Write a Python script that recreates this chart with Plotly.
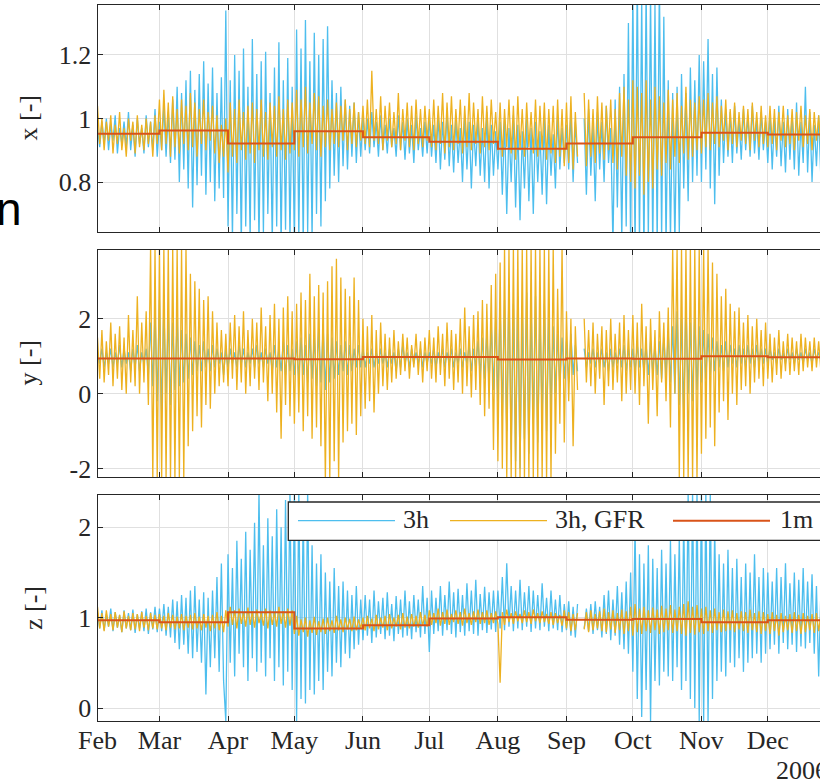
import pandas as pd
import plotly.graph_objects as go

# ---------------------------------------------------------------- data
# Daily samples (one value per day, Feb 1 .. Dec 25, 2006), one line per month.
# None marks the short outage in early September.
X3H = [
    0.97, 0.91, 0.99, 0.92, 1.00, 0.90, 0.98, 0.93, 1.01, 0.89, 0.97, 0.92, 0.99, 0.91, 1.02, 0.90, 0.98, 0.88, 1.00, 0.92, 0.97, 0.89, 1.01, 0.91, 0.99, 0.90, 1.03, 0.88,
    0.99, 0.90, 1.04, 0.88, 1.02, 0.86, 1.06, 0.87, 1.10, 0.80, 1.08, 0.84, 1.12, 0.78, 1.15, 0.72, 1.09, 0.79, 1.14, 0.82, 1.18, 0.76, 1.11, 0.80, 1.16, 0.74, 1.08, 0.78, 1.13, 0.75, 1.34,
    0.66, 1.12, 0.62, 1.20, 0.70, 1.15, 0.60, 1.22, 0.66, 1.10, 0.62, 1.25, 0.68, 1.14, 0.60, 1.18, 0.64, 1.21, 0.70, 1.08, 0.61, 1.16, 0.66, 1.24, 0.60, 1.12, 0.65, 1.19, 0.62, 1.10,
    0.60, 1.28, 0.62, 1.22, 0.60, 1.31, 0.64, 1.18, 0.62, 1.27, 0.70, 1.20, 0.66, 1.25, 0.74, 1.29, 0.78, 1.12, 0.82, 1.08, 0.80, 1.10, 0.85, 1.06, 0.84, 1.04, 0.88, 1.05, 0.86, 1.02, 0.88,
    1.01, 0.90, 1.00, 0.89, 1.02, 0.91, 0.99, 0.88, 1.01, 0.90, 0.98, 0.89, 1.00, 0.91, 0.97, 0.88, 1.01, 0.90, 0.99, 0.87, 1.00, 0.89, 0.98, 0.86, 1.01, 0.90, 0.97, 0.88, 0.99, 0.89,
    1.00, 0.88, 0.98, 0.86, 1.01, 0.84, 0.99, 0.87, 1.02, 0.85, 0.98, 0.83, 1.00, 0.86, 0.97, 0.80, 1.01, 0.84, 0.99, 0.78, 0.98, 0.85, 1.00, 0.82, 0.97, 0.80, 1.02, 0.78, 0.98, 0.82, 0.96,
    0.84, 0.99, 0.76, 1.00, 0.70, 0.97, 0.80, 1.01, 0.72, 0.98, 0.68, 0.96, 0.78, 1.00, 0.74, 0.97, 0.70, 0.99, 0.80, 0.96, 0.76, 1.00, 0.73, 0.98, 0.82, 0.95, 0.78, 1.01, 0.84, 0.97, 0.86,
    0.98, 0.84, 1.02, 0.80, 0.99, 0.86, None, None, 1.00, 0.76, 1.03, 0.82, 0.98, 0.74, 1.02, 0.84, 0.99, 0.80, 1.04, 0.86, 0.97, 0.60, 1.06, 0.72, 1.10, 0.62, 1.14, 0.66, 1.30, 0.60,
    1.40, 0.58, 1.45, 0.60, 1.38, 0.56, 1.42, 0.62, 1.40, 0.58, 1.36, 0.60, 1.44, 0.62, 1.32, 0.60, 1.12, 0.62, 1.08, 0.60, 1.10, 0.64, 1.14, 0.78, 1.08, 0.74, 1.16, 0.80, 1.12, 0.82, 1.20,
    0.80, 1.18, 0.84, 1.25, 0.78, 1.14, 0.73, 1.16, 0.82, 1.06, 0.86, 1.03, 0.88, 1.02, 0.86, 1.04, 0.89, 1.00, 0.87, 1.03, 0.90, 1.01, 0.88, 1.04, 0.89, 1.00, 0.87, 1.02, 0.90, 0.99,
    0.86, 1.02, 0.84, 1.00, 0.88, 1.04, 0.85, 0.99, 0.83, 1.03, 0.87, 1.01, 0.84, 1.05, 0.82, 0.99, 0.86, 1.10, 0.83, 1.02, 0.80, 0.98, 0.85, 1.01, 0.81,
]
XGFR = [
    1.04, 0.92, 1.00, 0.90, 0.99, 0.93, 1.01, 0.89, 0.98, 0.92, 1.02, 0.90, 0.97, 0.88, 1.00, 0.93, 0.99, 0.89, 1.01, 0.91, 0.98, 0.90, 1.00, 0.92, 0.99, 0.88, 1.01, 0.92,
    1.06, 0.90, 1.09, 0.92, 1.05, 0.88, 1.07, 0.91, 1.03, 0.89, 1.06, 0.92, 1.04, 0.90, 1.08, 0.91, 1.05, 0.88, 1.03, 0.92, 1.06, 0.90, 1.02, 0.93, 1.04, 0.89, 1.01, 0.86, 0.98, 0.88, 1.00,
    0.83, 1.05, 0.88, 1.03, 0.86, 1.06, 0.90, 1.02, 0.87, 1.04, 0.89, 1.05, 0.86, 1.03, 0.90, 1.06, 0.88, 1.02, 0.87, 1.05, 0.91, 1.04, 0.88, 1.07, 0.90, 1.03, 0.87, 1.06, 0.89, 1.05,
    0.90, 1.09, 0.88, 1.06, 0.91, 1.10, 0.89, 1.05, 0.92, 1.08, 0.90, 1.07, 0.88, 1.04, 0.91, 1.06, 0.90, 1.03, 0.92, 1.05, 0.91, 1.04, 0.93, 1.06, 0.90, 1.03, 0.92, 1.05, 0.91, 1.02, 0.93,
    1.04, 0.92, 1.06, 0.91, 1.15, 0.93, 1.03, 0.92, 1.07, 0.90, 1.04, 0.93, 1.05, 0.91, 1.02, 0.92, 1.08, 0.90, 1.03, 0.93, 1.05, 0.91, 1.04, 0.90, 1.06, 0.92, 1.03, 0.91, 1.04, 0.93,
    1.03, 0.91, 1.06, 0.90, 1.04, 0.92, 1.08, 0.89, 1.05, 0.91, 1.07, 0.90, 1.03, 0.92, 1.06, 0.89, 1.04, 0.91, 1.08, 0.90, 1.05, 0.92, 1.03, 0.89, 1.07, 0.91, 1.04, 0.90, 1.06, 0.92, 1.02,
    0.90, 1.05, 0.88, 1.03, 0.91, 1.06, 0.89, 1.04, 0.87, 1.07, 0.90, 1.03, 0.88, 1.05, 0.91, 1.02, 0.89, 1.06, 0.88, 1.04, 0.90, 1.05, 0.87, 1.03, 0.89, 1.04, 0.86, 1.06, 0.88, 1.03, 0.85,
    1.05, 0.86, 1.07, 0.84, 1.02, 0.88, None, None, 1.08, 0.85, 1.06, 0.88, 1.03, 0.86, 1.07, 0.89, 1.05, 0.87, 1.04, 0.90, 1.06, 0.86, 1.03, 0.84, 1.08, 0.88, 1.10, 0.82, 1.06, 0.80,
    1.12, 0.78, 1.10, 0.82, 1.08, 0.76, 1.12, 0.80, 1.06, 0.78, 1.10, 0.84, 1.07, 0.82, 1.05, 0.86, 1.09, 0.84, 1.06, 0.88, 1.08, 0.86, 1.04, 0.89, 1.10, 0.87, 1.06, 0.88, 1.05, 0.90, 1.07,
    0.89, 1.06, 0.91, 1.08, 0.90, 1.05, 0.92, 1.07, 0.91, 1.04, 0.93, 1.06, 0.90, 1.03, 0.92, 1.05, 0.91, 1.02, 0.93, 1.04, 0.92, 1.03, 0.90, 1.05, 0.93, 1.02, 0.91, 1.04, 0.92, 1.01,
    0.91, 1.04, 0.92, 1.03, 0.90, 1.02, 0.93, 1.04, 0.91, 1.01, 0.92, 1.03, 0.90, 1.02, 0.93, 1.04, 0.91, 1.01, 0.92, 1.03, 0.90, 1.02, 0.93, 1.01, 0.91,
]
Y3H = [
    1.1, 0.8, 1.2, 0.7, 1.1, 0.8, 1.2, 0.7, 1.1, 0.8, 1.3, 0.7, 1.2, 0.8, 1.1, 0.6, 1.2, 0.7, 1.3, 0.6, 1.1, 0.8, 1.2, 0.5, 1.9, 0.2, 2.2, -0.2,
    2.5, -0.5, 2.3, 0.0, 2.1, -0.3, 1.9, 0.1, 2.0, 0.2, 1.7, 0.3, 1.6, 0.4, 1.5, 0.5, 1.4, 0.6, 1.3, 0.6, 1.4, 0.7, 1.2, 0.6, 1.3, 0.7, 1.2, 0.8, 1.1, 0.5, 1.2,
    0.7, 1.2, 0.8, 1.1, 0.7, 1.3, 0.8, 1.2, 0.7, 1.1, 0.8, 1.2, 0.7, 1.3, 0.8, 1.1, 0.7, 1.2, 0.8, 1.1, 0.6, 1.3, 0.7, 1.2, 0.6, 1.4, 0.5, 1.3, 0.6, 1.2,
    0.5, 1.4, 0.4, 1.5, 0.5, 1.3, 0.3, 1.6, 0.4, 1.5, 0.2, 1.7, 0.3, 1.8, 0.1, 1.6, 0.3, 1.5, 0.4, 1.4, 0.5, 1.3, 0.6, 1.4, 0.5, 1.3, 0.6, 1.2, 0.7, 1.3, 0.7,
    1.2, 0.7, 1.1, 0.8, 1.2, 0.7, 1.1, 0.8, 1.2, 0.8, 1.1, 0.7, 1.2, 0.8, 1.1, 0.6, 1.2, 0.7, 1.3, 0.8, 1.1, 0.7, 1.2, 0.8, 1.1, 0.8, 1.2, 0.7, 1.1, 0.8,
    1.1, 0.8, 1.2, 0.7, 1.1, 0.8, 1.2, 0.7, 1.1, 0.8, 1.2, 0.7, 1.1, 0.8, 1.2, 0.7, 1.1, 0.8, 1.3, 0.6, 1.2, 0.7, 1.4, 0.5, 1.5, 0.4, 1.6, 0.3, 1.8, 0.1, 2.0,
    -0.2, 2.3, -0.6, 2.5, -1.0, 2.8, -1.5, 2.4, -1.8, 2.6, -2.0, 2.2, -1.2, 2.7, -1.6, 2.3, -0.8, 2.6, -1.3, 2.1, -0.6, 2.4, -1.0, 2.0, -0.4, 1.8, 0.0, 1.6, 0.2, 1.5, 0.4,
    1.4, 0.3, 1.6, 0.5, 1.3, 0.6, None, None, 1.2, 0.7, 1.1, 0.8, 1.2, 0.7, 1.1, 0.8, 1.2, 0.7, 1.1, 0.6, 1.2, 0.7, 1.1, 0.8, 1.2, 0.7, 1.3, 0.6, 1.2, 0.7,
    1.2, 0.6, 1.3, 0.7, 1.2, 0.6, 1.3, 0.5, 1.4, 0.6, 1.3, 0.5, 1.4, 0.4, 1.5, 0.5, 1.6, 0.3, 1.8, 0.0, 2.2, -0.3, 2.0, -0.5, 2.4, 0.0, 1.9, -0.2, 2.1, 0.1, 1.8,
    0.3, 1.7, 0.4, 1.6, 0.5, 1.5, 0.6, 1.4, 0.7, 1.3, 0.6, 1.4, 0.7, 1.3, 0.8, 1.2, 0.7, 1.3, 0.8, 1.2, 0.7, 1.3, 0.8, 1.2, 0.7, 1.3, 0.8, 1.2, 0.8, 1.2,
    0.8, 1.2, 0.9, 1.1, 0.8, 1.2, 0.9, 1.1, 0.8, 1.2, 0.9, 1.1, 0.8, 1.2, 0.9, 1.1, 0.8, 1.2, 0.9, 1.1, 0.8, 1.2, 0.9, 1.1, 0.9,
]
YGFR = [
    1.5, 0.4, 1.7, 0.3, 1.4, 0.5, 1.9, 0.2, 1.6, 0.4, 1.8, 0.1, 1.5, 0.0, 2.1, 0.3, 1.7, 0.2, 2.6, 0.0, 1.9, 0.3, 2.2, -0.3, 3.9, -2.3, 3.9, -2.3,
    3.9, -2.3, 3.9, -2.3, 3.9, -2.3, 3.9, -2.3, 3.9, -2.3, 3.9, -2.3, 3.9, -1.4, 3.2, -1.0, 3.0, -0.6, 2.8, -0.9, 2.5, -0.3, 2.6, -0.4, 2.2, 0.0, 1.9, 0.2, 1.7, 0.3, 1.6,
    0.2, 1.9, 0.4, 2.1, 0.1, 1.8, 0.3, 2.2, 0.0, 1.7, 0.2, 2.0, 0.4, 1.9, 0.1, 2.3, 0.3, 1.8, -0.2, 2.1, 0.0, 2.4, -0.5, 2.0, -1.2, 2.3, -0.3, 2.6, -0.6, 2.2,
    -0.8, 2.4, -0.5, 2.7, -1.0, 2.5, -0.6, 3.2, -1.2, 2.6, -0.9, 2.9, -1.4, 2.7, -2.3, 3.0, -2.3, 3.4, -1.8, 3.6, -2.3, 3.1, -1.3, 2.8, -1.0, 2.6, -0.8, 3.1, -1.1, 2.5, -0.6,
    2.0, -0.4, 1.8, -0.2, 2.1, -0.5, 1.7, 0.0, 1.9, 0.2, 1.6, 0.1, 1.5, 0.3, 1.7, 0.4, 1.4, 0.5, 1.6, 0.6, 1.5, 0.4, 1.3, 0.7, 1.6, 0.5, 1.4, 0.3, 1.5, 0.6,
    1.7, 0.4, 1.5, 0.3, 1.8, 0.5, 1.6, 0.2, 1.9, 0.4, 1.7, 0.1, 1.6, 0.3, 2.0, 0.0, 2.3, 0.2, 1.8, -0.1, 2.1, 0.1, 2.2, -0.3, 2.5, -0.6, 2.4, -0.4, 2.9, -1.5, 3.2,
    -1.8, 3.5, -2.0, 3.9, -2.3, 3.9, -2.3, 3.9, -2.3, 3.9, -2.3, 3.9, -2.3, 3.9, -2.3, 3.9, -2.3, 3.9, -2.3, 3.9, -2.3, 3.9, -2.3, 3.9, -2.3, 3.9, -1.6, 2.8, -0.8, 3.9, -1.3,
    2.2, -0.2, 2.0, -1.4, 1.8, 0.1, None, None, 2.0, 0.3, 1.7, 0.2, 1.9, 0.0, 1.6, 0.4, 1.8, -0.3, 1.7, 0.2, 2.0, 0.1, 1.6, 0.3, 1.9, -0.2, 2.1, 0.0, 1.7, 0.1,
    2.1, 0.0, 1.9, -0.3, 2.4, 0.2, 1.8, -0.8, 2.0, 0.1, 1.7, -0.6, 2.2, 0.3, 1.9, -0.2, 2.3, -0.9, 3.9, 0.0, 3.9, -2.3, 3.9, -2.3, 3.9, -2.3, 3.9, -2.3, 3.9, -2.3, 3.9,
    -1.6, 3.9, -1.2, 3.9, -0.9, 3.5, -1.4, 3.2, -0.5, 2.6, -0.2, 2.8, -0.7, 2.4, 0.0, 2.2, -0.3, 2.3, 0.1, 1.9, 0.2, 2.1, 0.0, 1.8, 0.3, 2.0, 0.4, 1.7, 0.2, 1.9,
    0.4, 1.6, 0.3, 1.5, 0.5, 1.7, 0.4, 1.4, 0.6, 1.6, 0.5, 1.5, 0.6, 1.4, 0.5, 1.6, 0.6, 1.5, 0.7, 1.4, 0.6, 1.5, 0.7, 1.4, 0.6,
]
Z3H = [
    1.05, 0.88, 1.08, 0.86, 1.04, 0.90, 1.10, 0.85, 1.06, 0.89, 1.03, 0.84, 1.08, 0.88, 1.05, 0.86, 1.09, 0.83, 1.04, 0.88, 1.07, 0.85, 1.10, 0.82, 1.06, 0.87, 1.12, 0.84,
    1.10, 0.85, 1.15, 0.80, 1.12, 0.78, 1.20, 0.72, 1.18, 0.65, 1.25, 0.70, 1.22, 0.60, 1.30, 0.55, 1.35, 0.62, 1.20, 0.50, 1.28, 0.15, 1.22, 0.45, 1.30, 0.55, 1.45, 0.40, 1.60, 0.30, -0.15,
    1.70, 0.50, 1.55, 0.35, 1.85, 0.60, 1.65, 0.45, 1.95, 0.30, 1.75, 0.55, 2.05, 0.40, 2.40, 0.50, 1.80, 0.35, 2.10, 0.55, 1.90, 0.30, 2.20, 0.45, 2.00, 0.25, 2.30, 0.40, 2.40, 0.20,
    2.40, -0.15, 2.40, 0.10, 2.20, 0.05, 2.40, 0.20, 1.80, 0.15, 1.60, 0.30, 1.70, 0.20, 1.50, 0.40, 1.40, 0.35, 1.55, 0.50, 1.35, 0.45, 1.40, 0.60, 1.30, 0.55, 1.25, 0.65, 1.35, 0.70, 1.20,
    0.75, 1.25, 0.80, 1.20, 0.72, 1.30, 0.78, 1.18, 0.82, 1.22, 0.76, 1.28, 0.80, 1.15, 0.74, 1.24, 0.82, 1.20, 0.78, 1.30, 0.80, 1.18, 0.76, 1.25, 0.84, 1.20, 0.78, 1.35, 0.82, 1.22,
    0.62, 1.30, 0.82, 1.22, 0.85, 1.35, 0.80, 1.25, 0.86, 1.40, 0.82, 1.28, 0.78, 1.32, 0.84, 1.25, 0.80, 1.38, 0.85, 1.30, 0.82, 1.42, 0.80, 1.26, 0.86, 1.34, 0.83, 1.28, 0.87, 1.30, 0.84,
    1.30, 0.88, 1.45, 0.86, 1.60, 0.90, 1.35, 0.85, 1.30, 0.88, 1.42, 0.86, 1.28, 0.90, 1.35, 0.84, 1.30, 0.88, 1.25, 0.86, 1.38, 0.90, 1.22, 0.85, 1.30, 0.88, 1.20, 0.86, 1.25, 0.84, 1.15,
    0.86, 1.18, 0.80, 1.12, 0.78, 1.15, None, None, 0.88, 1.10, 0.85, 1.15, 0.82, 1.18, 0.86, 1.12, 0.78, 1.25, 0.82, 1.30, 0.75, 1.20, 0.80, 1.35, 0.70, 1.28, 0.65, 1.40, 0.60, 1.50,
    0.40, 2.00, 0.10, 1.70, -0.10, 1.60, 0.20, 1.80, -0.15, 1.65, 0.30, 1.55, 0.25, 1.75, 0.40, 1.60, 0.35, 1.85, 0.30, 1.70, 0.45, 1.90, 0.20, 2.10, 0.30, 2.40, 0.10, 2.40, 0.00, 2.40, -0.15,
    2.40, -0.15, 2.40, -0.15, 2.40, 0.10, 2.00, 0.30, 1.70, 0.40, 1.60, 0.35, 1.75, 0.50, 1.55, 0.45, 1.65, 0.55, 1.45, 0.40, 1.60, 0.50, 1.50, 0.55, 1.70, 0.60, 1.45, 0.50, 1.55, 0.60,
    1.50, 0.65, 1.40, 0.70, 1.55, 0.60, 1.45, 0.72, 1.60, 0.65, 1.38, 0.70, 1.50, 0.62, 1.42, 0.68, 1.55, 0.66, 1.40, 0.72, 1.48, 0.60, 1.35, 0.35, 1.30,
]
ZGFR = [
    1.12, 0.88, 1.05, 0.85, 1.08, 0.90, 1.04, 0.86, 1.06, 0.89, 1.03, 0.84, 1.07, 0.88, 1.02, 0.86, 1.05, 0.87, 1.04, 0.85, 1.06, 0.89, 1.02, 0.86, 1.05, 0.88, 1.03, 0.87,
    1.04, 0.88, 1.02, 0.86, 1.05, 0.89, 1.03, 0.87, 1.01, 0.88, 1.04, 0.86, 1.02, 0.89, 1.03, 0.87, 1.05, 0.88, 1.01, 0.86, 1.04, 0.89, 1.02, 0.85, 1.03, 0.88, 1.06, 0.86, 1.02, 0.84, 1.08,
    0.90, 1.12, 0.92, 1.08, 0.88, 1.10, 0.93, 1.06, 0.90, 1.11, 0.92, 1.07, 0.89, 1.09, 0.94, 1.05, 0.91, 1.10, 0.88, 1.08, 0.92, 1.06, 0.90, 1.12, 0.93, 1.07, 0.89, 1.10, 0.91, 1.08,
    0.82, 1.02, 0.80, 0.98, 0.84, 1.00, 0.79, 0.97, 0.83, 1.01, 0.81, 0.96, 0.84, 0.99, 0.82, 1.00, 0.85, 0.97, 0.83, 1.02, 0.86, 0.98, 0.84, 1.00, 0.87, 0.99, 0.85, 1.01, 0.86, 0.98, 0.88,
    1.00, 0.86, 1.02, 0.88, 0.99, 0.85, 1.03, 0.87, 1.00, 0.89, 1.02, 0.86, 1.04, 0.88, 1.00, 0.90, 1.03, 0.87, 1.05, 0.89, 1.01, 0.88, 1.04, 0.90, 1.02, 0.89, 1.06, 0.91, 1.03, 0.90,
    1.08, 0.92, 1.05, 0.94, 1.10, 0.91, 1.06, 0.93, 1.09, 0.92, 1.04, 0.95, 1.08, 0.93, 1.06, 0.91, 1.10, 0.94, 1.05, 0.92, 1.07, 0.95, 1.09, 0.93, 1.06, 0.94, 1.08, 0.92, 1.05, 0.94, 1.07,
    0.93, 0.28, 1.06, 0.92, 1.09, 0.95, 1.05, 0.93, 1.07, 0.96, 1.04, 0.94, 1.08, 0.95, 1.06, 0.93, 1.09, 0.96, 1.05, 0.94, 1.07, 0.95, 1.04, 0.93, 1.06, 0.92, 1.05, 0.94, 1.03, 0.91, 1.08,
    0.88, 1.06, 0.85, 1.04, 0.86, 1.05, None, None, 0.87, 1.06, 0.84, 1.08, 0.86, 1.04, 0.88, 1.07, 0.85, 1.10, 0.84, 1.06, 0.87, 1.08, 0.83, 1.05, 0.86, 1.09, 0.82, 1.07, 0.85, 1.12,
    0.80, 1.15, 0.84, 1.10, 0.82, 1.12, 0.85, 1.08, 0.83, 1.11, 0.86, 1.09, 0.82, 1.13, 0.84, 1.10, 0.86, 1.14, 0.83, 1.09, 0.85, 1.12, 0.82, 1.15, 0.80, 1.18, 0.83, 1.12, 0.81, 1.14, 0.84,
    1.10, 0.82, 1.12, 0.85, 1.08, 0.83, 1.10, 0.86, 1.06, 0.84, 1.09, 0.85, 1.07, 0.86, 1.08, 0.84, 1.05, 0.87, 1.07, 0.85, 1.06, 0.83, 1.09, 0.86, 1.05, 0.84, 1.07, 0.82, 1.06, 0.85,
    1.04, 0.82, 1.06, 0.85, 1.03, 0.80, 1.05, 0.84, 1.02, 0.86, 1.04, 0.83, 1.06, 0.85, 1.03, 0.82, 1.05, 0.84, 1.02, 0.86, 1.04, 0.83, 1.05, 0.85, 1.03,
]

# Monthly means (Feb .. Dec 2006, plus the January step that closes the last month)
MONTHS = ["Feb", "Mar", "Apr", "May", "Jun", "Jul", "Aug", "Sep", "Oct", "Nov", "Dec", "Jan"]
X1M = [0.952, 0.962, 0.921, 0.960, 0.941, 0.927, 0.905, 0.921, 0.941, 0.955, 0.950, 0.950]
Y1M = [0.94, 0.94, 0.94, 0.92, 0.98, 0.98, 0.91, 0.94, 0.93, 1.00, 0.97, 0.97]
Z1M = [0.97, 0.95, 1.06, 0.88, 0.915, 0.99, 1.005, 0.977, 0.985, 0.95, 0.97, 0.97]

SERIES_NAMES = ["3h", "3h, GFR", "1m"]
AXIS_TITLES = ["x [-]", "y [-]", "z [-]"]
Y_TICKS = [[0.8, 1.0, 1.2], [-2, 0, 2], [0, 1, 2]]
Y_TICKTEXT = [["0.8", "1", "1.2"], ["-2", "0", "2"], ["0", "1", "2"]]
Y_RANGES = [[0.643, 1.357], [-2.23, 3.84], [-0.147, 2.36]]
YEAR_LABEL = "2006"

# ---------------------------------------------------------------- style
W, H = 820, 784
BLUE = "#4DBEEE"
YELLOW = "#EDB120"
RED = "#D95319"
AX = "#262626"
GRID = "#e0e0e0"
SERIF = "Liberation Serif, Times New Roman, serif"
FS = 26

X_START = pd.Timestamp("2006-02-01")
X_END = pd.Timestamp("2006-12-24 14:24")
month_starts = pd.date_range("2006-02-01", periods=len(MONTHS), freq="MS")

# panel vertical extents in pixels (top, bottom)
PANELS_PX = [(5, 232), (249.7, 477.3), (494.7, 721.3)]
LEFT_PX = 97.5


def px_x(px):
    return px / W


def px_y(py):
    return 1 - py / H


fig = go.Figure()
data = [(X3H, XGFR, X1M), (Y3H, YGFR, Y1M), (Z3H, ZGFR, Z1M)]
for i, (s3h, sgfr, s1m) in enumerate(data):
    xa = "x" if i == 0 else f"x{i + 1}"
    ya = "y" if i == 0 else f"y{i + 1}"
    d3h = pd.date_range(X_START, periods=len(s3h), freq="D")
    dgfr = pd.date_range(X_START, periods=len(sgfr), freq="D")
    fig.add_trace(go.Scatter(x=d3h, y=s3h, mode="lines", name=SERIES_NAMES[0],
                             line=dict(color=BLUE, width=1.3), xaxis=xa, yaxis=ya,
                             showlegend=False, hoverinfo="skip"))
    fig.add_trace(go.Scatter(x=dgfr, y=sgfr, mode="lines", name=SERIES_NAMES[1],
                             line=dict(color=YELLOW, width=1.3), xaxis=xa, yaxis=ya,
                             showlegend=False, hoverinfo="skip"))
    fig.add_trace(go.Scatter(x=month_starts, y=s1m, mode="lines", name=SERIES_NAMES[2],
                             line=dict(color=RED, width=2, shape="hv"), xaxis=xa, yaxis=ya,
                             showlegend=False, hoverinfo="skip"))

layout = dict(
    width=W, height=H, template="none",
    margin=dict(l=0, r=0, t=0, b=0, pad=0),
    paper_bgcolor="white", plot_bgcolor="white",
    showlegend=False,
    font=dict(family=SERIF, size=FS, color=AX),
)
for i in range(3):
    top, bot = PANELS_PX[i]
    xkey = "xaxis" if i == 0 else f"xaxis{i + 1}"
    ykey = "yaxis" if i == 0 else f"yaxis{i + 1}"
    anchor_y = "y" if i == 0 else f"y{i + 1}"
    anchor_x = "x" if i == 0 else f"x{i + 1}"
    layout[xkey] = dict(
        type="date", range=[X_START, X_END], domain=[px_x(LEFT_PX), 1],
        anchor=anchor_y,
        tickmode="array", tickvals=list(month_starts), ticktext=MONTHS,
        showticklabels=(i == 2), ticklabelstandoff=-5,
        ticks="inside", ticklen=5, tickwidth=1.3, tickcolor=AX,
        showline=True, linecolor=AX, linewidth=1.3, mirror="ticks",
        showgrid=True, gridcolor=GRID, gridwidth=1, zeroline=False,
        tickfont=dict(family=SERIF, size=FS, color=AX),
        automargin=False, fixedrange=True,
    )
    layout[ykey] = dict(
        range=Y_RANGES[i], domain=[px_y(bot), px_y(top)], anchor=anchor_x,
        tickmode="array", tickvals=Y_TICKS[i], ticktext=Y_TICKTEXT[i],
        ticks="inside", ticklen=5, tickwidth=1.3, tickcolor=AX,
        showline=True, linecolor=AX, linewidth=1.3, mirror=False,
        showgrid=True, gridcolor=GRID, gridwidth=1, zeroline=False,
        tickfont=dict(family=SERIF, size=FS, color=AX),
        automargin=False, fixedrange=True,
    )
fig.update_layout(**layout)

annotations = []
# rotated axis titles
for (top, bot), title, cx in zip(PANELS_PX, AXIS_TITLES, [28, 28, 33]):
    annotations.append(dict(
        text=title, xref="paper", yref="paper", x=px_x(cx), y=px_y((top + bot) / 2),
        xanchor="center", yanchor="middle", textangle=-90, showarrow=False,
        font=dict(family=SERIF, size=FS, color=AX)))
# year label under the last month
annotations.append(dict(
    text=YEAR_LABEL, xref="paper", yref="paper", x=px_x(774), y=px_y(770),
    xanchor="left", yanchor="middle", showarrow=False,
    font=dict(family=SERIF, size=FS, color=AX)))
# stray letter at the left edge
annotations.append(dict(
    text="n", xref="paper", yref="paper", x=px_x(24), y=px_y(209),
    xanchor="right", yanchor="middle", showarrow=False,
    font=dict(family="Liberation Sans, Arial, sans-serif", size=46, color="#000000")))

# legend drawn in the lower panel
shapes = [dict(type="rect", xref="paper", yref="paper",
               x0=px_x(288.3), x1=px_x(840), y0=px_y(540.3), y1=px_y(502),
               fillcolor="white", line=dict(color=AX, width=1.3), layer="above")]
legend_items = [
    (SERIES_NAMES[0], BLUE, 298, 395, 403, 1.3),
    (SERIES_NAMES[1], YELLOW, 450, 547, 555, 1.3),
    (SERIES_NAMES[2], RED, 673, 770, 780, 2.0),
]
for name, color, lx0, lx1, tx, lw in legend_items:
    shapes.append(dict(type="line", xref="paper", yref="paper",
                       x0=px_x(lx0), x1=px_x(lx1), y0=px_y(520.7), y1=px_y(520.7),
                       line=dict(color=color, width=lw), layer="above"))
    annotations.append(dict(
        text=name, xref="paper", yref="paper", x=px_x(tx - 2), y=px_y(519.2),
        xanchor="left", yanchor="middle", showarrow=False,
        font=dict(family=SERIF, size=FS, color=AX)))

fig.update_layout(annotations=annotations, shapes=shapes)
fig.write_html("out.html")
